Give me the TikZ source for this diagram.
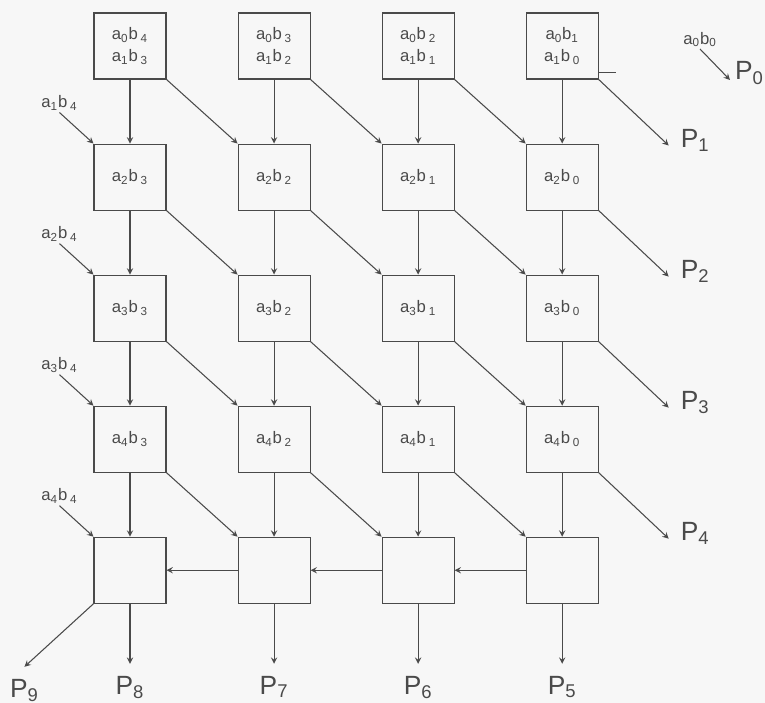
\documentclass[tikz,border=0pt]{standalone}
\usepackage{fontspec}
\setmainfont{Liberation Sans}
\usetikzlibrary{positioning}
\definecolor{ink}{HTML}{4A4A4A}
\newcommand{\abterm}[2]{a\textsubscript{#1}b\,\textsubscript{#2}}
\newcommand{\outp}[1]{P\textsubscript{#1}}

\begin{document}
\begin{tikzpicture}[x=0.2mm, y=-0.2mm, >=stealth, node distance=12.8mm and 14.2mm, color=ink]
  \tikzstyle{cell}=[draw, line width=0.6pt, minimum width=14.4mm, minimum height=13.2mm, inner sep=1pt, align=center, font=\fontsize{9.5}{12.5}\selectfont]
  \tikzstyle{inp}=[inner sep=1pt, font=\fontsize{9.5}{11}\selectfont]
  \tikzstyle{plab}=[inner sep=1pt, font=\fontsize{15}{18}\selectfont]
  \tikzstyle{wire}=[->, line width=0.6pt]

  \fill[black!3] (0,0) rectangle (765,703);
  \useasboundingbox (0,0) rectangle (765,703);

  % top row holds two partial products
  \node[cell] (A1) at (130,46) {\abterm{0}{4}\\\abterm{1}{3}};
  \node[cell, right=of A1] (A2) {\abterm{0}{3}\\\abterm{1}{2}};
  \node[cell, right=of A2] (A3) {\abterm{0}{2}\\\abterm{1}{1}};
  \node[cell, right=of A3] (A4) {a\textsubscript{0}b\textsubscript{1}\\\abterm{1}{0}};

  \node[cell, below=of A1] (B1) {\abterm{2}{3}};
  \node[cell, below=of A2] (B2) {\abterm{2}{2}};
  \node[cell, below=of A3] (B3) {\abterm{2}{1}};
  \node[cell, below=of A4] (B4) {\abterm{2}{0}};

  \node[cell, below=of B1] (C1) {\abterm{3}{3}};
  \node[cell, below=of B2] (C2) {\abterm{3}{2}};
  \node[cell, below=of B3] (C3) {\abterm{3}{1}};
  \node[cell, below=of B4] (C4) {\abterm{3}{0}};

  \node[cell, below=of C1] (D1) {\abterm{4}{3}};
  \node[cell, below=of C2] (D2) {\abterm{4}{2}};
  \node[cell, below=of C3] (D3) {\abterm{4}{1}};
  \node[cell, below=of C4] (D4) {\abterm{4}{0}};

  % last row: carry chain
  \node[cell, below=of D1] (E1) {};
  \node[cell, below=of D2] (E2) {};
  \node[cell, below=of D3] (E3) {};
  \node[cell, below=of D4] (E4) {};

  \foreach \up/\dn in {A/B, B/C, C/D, D/E} {
    \foreach \i in {1,...,4} \draw[wire] (\up\i) -- (\dn\i);
    \foreach \i/\j in {1/2, 2/3, 3/4} \draw[wire] (\up\i.south east) -- (\dn\j.north west);
  }
  \foreach \i/\j in {2/1, 3/2, 4/3} \draw[wire] (E\i) -- (E\j);
  \draw[line width=0.6pt] ([yshift=1.4mm]A4.south east) -- ++(17,0);

  % inputs on the left
  \foreach \dn/\n in {B/1, C/2, D/3, E/4} {
    \coordinate (i\n) at ([shift={(-34,-31)}]\dn1.north west);
    \node[inp, above=0pt of i\n] (L\n) {\abterm{\n}{4}};
    \draw[wire] (i\n) -- (\dn1.north west);
  }
  \coordinate (i0) at (700,49);
  \node[inp, above=0pt of i0] (L0) {a\textsubscript{0}b\textsubscript{0}};
  \coordinate (p0) at (730,80);
  \draw[wire] (i0) -- (p0);
  \node[plab, right=0.6mm of p0, yshift=1.4mm] (P0) {\outp{0}};

  % outputs
  \foreach \up/\n in {A/1, B/2, C/3, D/4} {
    \coordinate (p\n) at ([shift={(70,66)}]\up4.south east);
    \draw[wire] (\up4.south east) -- (p\n);
    \node[plab, right=2mm of p\n, yshift=1mm] (P\n) {\outp{\n}};
  }
  \foreach \i/\n in {1/8, 2/7, 3/6, 4/5} {
    \coordinate[below=12mm of E\i] (p\n);
    \draw[wire] (E\i) -- (p\n);
    \node[plab, below=2mm of p\n] (P\n) {\outp{\n}};
  }
  \coordinate (p9) at ([shift={(-69,63)}]E1.south west);
  \draw[wire] (E1.south west) -- (p9);
  \node[plab, below=2mm of p9] (P9) {\outp{9}};
\end{tikzpicture}
\end{document}
